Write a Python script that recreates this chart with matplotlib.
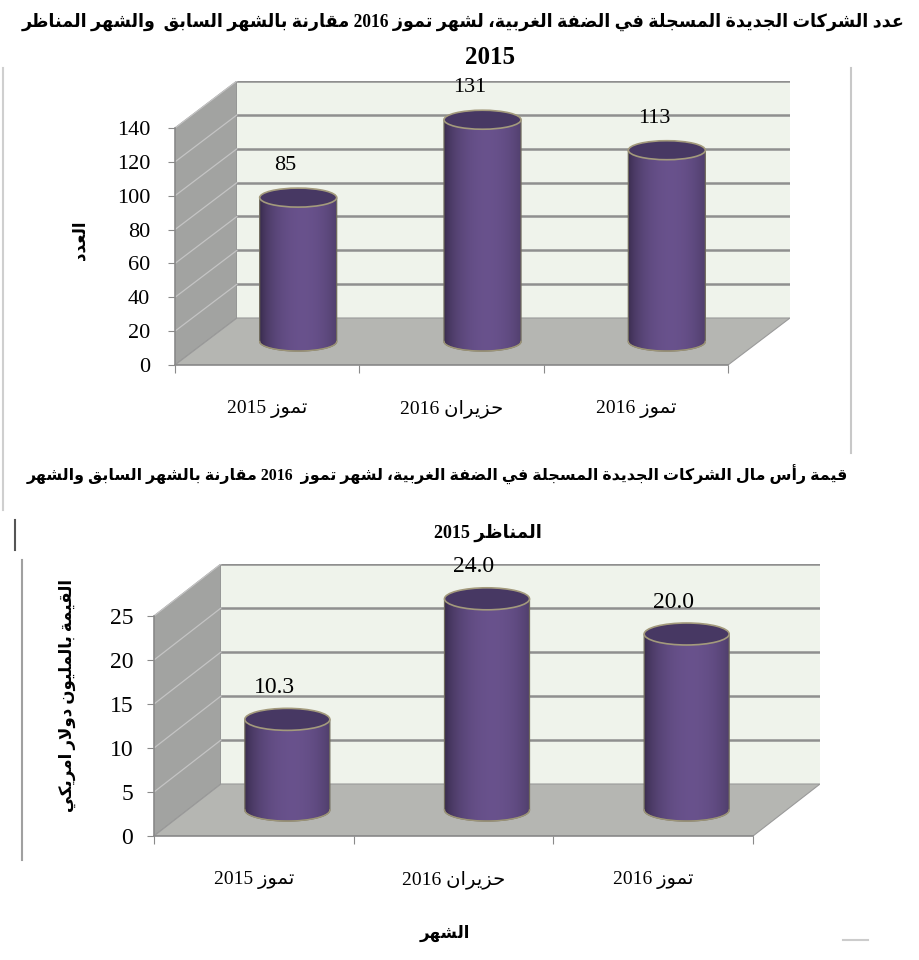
import re
import numpy as np
import matplotlib
matplotlib.use('Agg')
import matplotlib.pyplot as plt
from matplotlib.patches import Polygon, Ellipse, PathPatch
from matplotlib.path import Path
from matplotlib.lines import Line2D

# data
categories = ['تموز 2015', 'حزيران 2016', 'تموز 2016']
counts = [85, 131, 113]
capital = [10.3, 24.0, 20.0]
count_ticks = [0, 20, 40, 60, 80, 100, 120, 140]
capital_ticks = [0, 5, 10, 15, 20, 25]

title1 = 'عدد الشركات الجديدة المسجلة في الضفة الغربية، لشهر تموز 2016 مقارنة بالشهر السابق  والشهر المناظر'
title1b = '2015'
title2 = 'قيمة رأس مال الشركات الجديدة المسجلة في الضفة الغربية، لشهر تموز  2016 مقارنة بالشهر السابق والشهر'
title2b = 'المناظر 2015'
ylabel1 = 'العدد'
ylabel2 = 'القيمة بالمليون دولار امريكي'
xlabel2 = 'الشهر'

# --- small arabic shaper (matplotlib has no shaping / bidi) ---
FORMS = {
    'ا': (0xFE8D, 0xFE8E, None, None), 'أ': (0xFE83, 0xFE84, None, None),
    'ب': (0xFE8F, 0xFE90, 0xFE91, 0xFE92), 'ة': (0xFE93, 0xFE94, None, None),
    'ت': (0xFE95, 0xFE96, 0xFE97, 0xFE98), 'ج': (0xFE9D, 0xFE9E, 0xFE9F, 0xFEA0),
    'ح': (0xFEA1, 0xFEA2, 0xFEA3, 0xFEA4), 'د': (0xFEA9, 0xFEAA, None, None),
    'ر': (0xFEAD, 0xFEAE, None, None), 'ز': (0xFEAF, 0xFEB0, None, None),
    'س': (0xFEB1, 0xFEB2, 0xFEB3, 0xFEB4), 'ش': (0xFEB5, 0xFEB6, 0xFEB7, 0xFEB8),
    'ض': (0xFEBD, 0xFEBE, 0xFEBF, 0xFEC0), 'ظ': (0xFEC5, 0xFEC6, 0xFEC7, 0xFEC8),
    'ع': (0xFEC9, 0xFECA, 0xFECB, 0xFECC), 'غ': (0xFECD, 0xFECE, 0xFECF, 0xFED0),
    'ف': (0xFED1, 0xFED2, 0xFED3, 0xFED4), 'ق': (0xFED5, 0xFED6, 0xFED7, 0xFED8),
    'ك': (0xFED9, 0xFEDA, 0xFEDB, 0xFEDC), 'ل': (0xFEDD, 0xFEDE, 0xFEDF, 0xFEE0),
    'م': (0xFEE1, 0xFEE2, 0xFEE3, 0xFEE4), 'ن': (0xFEE5, 0xFEE6, 0xFEE7, 0xFEE8),
    'ه': (0xFEE9, 0xFEEA, 0xFEEB, 0xFEEC), 'و': (0xFEED, 0xFEEE, None, None),
    'ي': (0xFEF1, 0xFEF2, 0xFEF3, 0xFEF4),
}
LAM_ALEF = {'ا': (0xFEFB, 0xFEFC), 'أ': (0xFEF7, 0xFEF8)}


def dual(c):
    return c in FORMS and FORMS[c][2] is not None


def shape(s):
    out = []
    i = 0
    while i < len(s):
        c = s[i]
        if c not in FORMS:
            out.append(c)
            i += 1
            continue
        jp = i > 0 and dual(s[i - 1])
        if c == 'ل' and i + 1 < len(s) and s[i + 1] in LAM_ALEF:
            iso, fin = LAM_ALEF[s[i + 1]]
            out.append(chr(fin if jp else iso))
            i += 2
            continue
        jn = dual(c) and i + 1 < len(s) and s[i + 1] in FORMS
        iso, fin, ini, med = FORMS[c]
        if jp and jn:
            out.append(chr(med))
        elif jp:
            out.append(chr(fin))
        elif jn:
            out.append(chr(ini))
        else:
            out.append(chr(iso))
        i += 1
    return ''.join(out)


def ar(s):
    runs = re.findall(r'[0-9.]+|[^0-9.]+', shape(s))
    return ''.join(r if r[0].isdigit() else r[::-1] for r in reversed(runs))


FAM = ['Liberation Serif', 'DejaVu Sans']
W, H = 920, 960
fig = plt.figure(figsize=(W / 100, H / 100), dpi=100)


def fx(px):
    return px / W


def fy(py):
    return 1 - py / H


def draw_chart(values, ticks, xl, xr, y0, ytop, dxp, dyp, cwp, ehp, fmt, fs, pad):
    ymax = ticks[-1]
    ppx = (xr - xl) / 3.0
    ppy = (y0 - ytop) / ymax
    DX = dxp / ppx
    DY = dyp / ppy
    ax = fig.add_axes([fx(xl), fy(y0), (xr + dxp - xl) / W, (y0 - ytop + dyp) / H])
    ax.set_facecolor('none')

    # walls
    ax.add_patch(Polygon([(0, 0), (DX, DY), (DX, DY + ymax), (0, ymax)],
                         fc='#a2a3a1', ec='#8e8e8e', lw=0.8, zorder=0))
    ax.add_patch(Polygon([(DX, DY), (3 + DX, DY), (3 + DX, DY + ymax), (DX, DY + ymax)],
                         fc='#eff3eb', ec='none', zorder=0))
    ax.add_patch(Polygon([(0, 0), (3, 0), (3 + DX, DY), (DX, DY)],
                         fc='#b5b6b2', ec='#9a9a9a', lw=0.8, zorder=0.5))
    for v in ticks[1:]:
        ax.plot([DX, 3 + DX], [DY + v, DY + v], color='#8f8f8f', lw=1.8, zorder=1)
        ax.plot([0, DX], [v, DY + v], color='#c4c4c4', lw=0.9, zorder=1)

    # cylinders
    cw = cwp / ppx
    eh = ehp / ppy
    t = np.linspace(0, 1, 80)
    f = np.clip(1 - ((t - 0.56) / 0.56) ** 2, 0, 1) ** 0.7
    dark = np.array([0.22, 0.17, 0.30])
    light = np.array([0.41, 0.32, 0.55])
    grad = (dark[None, :] + (light - dark)[None, :] * f[:, None])[None, :, :]
    base = DY / 2
    for i, v in enumerate(values):
        xc = i + 0.5 + DX / 2
        top = base + v
        th = np.linspace(np.pi, 2 * np.pi, 60)
        bx = xc + cw / 2 * np.cos(th)
        by = base + eh / 2 * np.sin(th)
        verts = [(xc - cw / 2, top)] + list(zip(bx, by)) + [(xc + cw / 2, top), (xc - cw / 2, top)]
        body = PathPatch(Path(verts, closed=True), fc='none', ec='#6f6a5c', lw=0.9, zorder=3)
        ax.add_patch(body)
        im = ax.imshow(grad, extent=[xc - cw / 2, xc + cw / 2, base - eh / 2, top],
                       aspect='auto', interpolation='bilinear', zorder=2.9)
        im.set_clip_path(body)
        ax.plot(bx, by, color='#9d9578', lw=1.0, zorder=3.1)
        ax.add_patch(Ellipse((xc, top), cw, eh, fc='#473863', ec='#a39a7c', lw=1.2, zorder=3.2))
        ax.annotate(fmt.format(v), xy=(xc, top), xytext=(-13, 32), textcoords='offset pixels',
                    ha='center', va='center', fontsize=fs, family=FAM, zorder=5)

    ax.set_xlim(0, 3 + DX)
    ax.set_ylim(0, ymax + DY)
    for s in ['top', 'right']:
        ax.spines[s].set_visible(False)
    ax.spines['left'].set_bounds(0, ymax)
    ax.spines['bottom'].set_bounds(0, 3)
    for s in ['left', 'bottom']:
        ax.spines[s].set_color('#8a8a8a')
        ax.spines[s].set_linewidth(1.2)
    ax.set_yticks(ticks)
    ax.set_yticklabels([str(v) for v in ticks], family=FAM, fontsize=fs)
    ax.set_xticks([0, 1, 2, 3])
    ax.set_xticklabels([])
    ax.set_xticks([0.5, 1.5, 2.5], minor=True)
    ax.set_xticklabels([ar(c) for c in categories], minor=True, family=FAM, fontsize=14)
    ax.tick_params(axis='y', length=5, color='#8a8a8a', pad=pad)
    ax.tick_params(axis='x', which='major', length=6, color='#8a8a8a')
    ax.tick_params(axis='x', which='minor', length=0, pad=25)
    return ax


draw_chart(counts, count_ticks, 175, 728, 365, 128, 62, 47, 77, 19, '{:d}', 16, 13)
draw_chart(capital, capital_ticks, 154, 753, 836, 616, 67, 52, 85, 22, '{:.1f}', 17, 10)

# titles and labels
t1 = fig.text(fx(905), fy(22), ar(title1), ha='right', va='center', family=FAM,
              fontweight='bold', fontsize=15)
fig.text(fx(490), fy(58), title1b, ha='center', va='center', family=FAM,
         fontweight='bold', fontsize=18)
t2 = fig.text(fx(848), fy(475), ar(title2), ha='right', va='center', family=FAM,
              fontweight='bold', fontsize=15)
fig.text(fx(488), fy(533), ar(title2b), ha='center', va='center', family=FAM,
         fontweight='bold', fontsize=13)
fig.text(fx(80), fy(240), ar(ylabel1), rotation=90, ha='center', va='center', family=FAM,
         fontweight='bold', fontsize=12)
fig.text(fx(67), fy(695), ar(ylabel2), rotation=90, ha='center', va='center', family=FAM,
         fontweight='bold', fontsize=12)
fig.text(fx(445), fy(933), ar(xlabel2), ha='center', va='center', family=FAM,
         fontweight='bold', fontsize=12)

fig.canvas.draw()
r = fig.canvas.get_renderer()
for t, target in [(t1, 885), (t2, 818)]:
    w = t.get_window_extent(renderer=r).width
    t.set_fontsize(t.get_fontsize() * target / w)

# frame fragments
for xs, ys, c in [([3, 3], [68, 510], '#cfcfcf'), ([851, 851], [68, 453], '#c8c8c8'),
                  ([15, 15], [520, 550], '#555555'), ([22, 22], [560, 860], '#a0a0a0'),
                  ([843, 868], [940, 940], '#cccccc')]:
    fig.add_artist(Line2D([fx(x) for x in xs], [fy(y) for y in ys], color=c, lw=1.5))

fig.savefig('out.png', dpi=100)
